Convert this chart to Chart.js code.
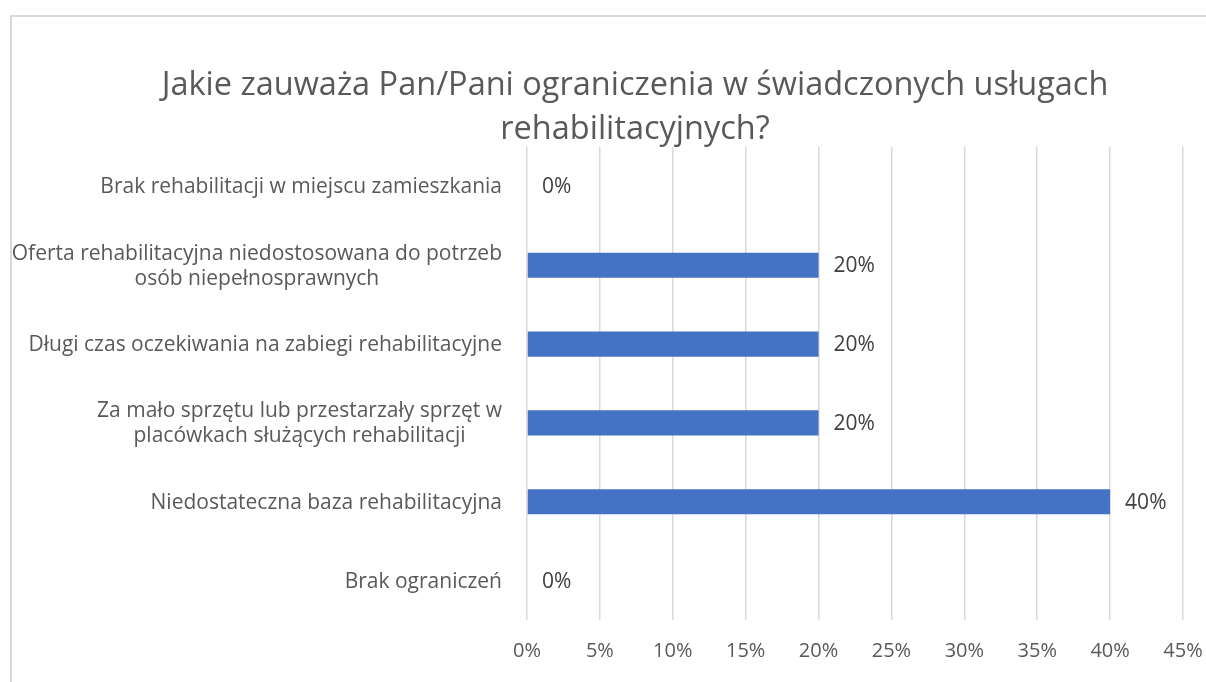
<!DOCTYPE html>
<html>
<head>
<meta charset="utf-8">
<script src="https://cdn.jsdelivr.net/npm/chart.js@4"></script>
<style>
  html, body { margin: 0; padding: 0; background: #fff; }
  #frame { position: absolute; left: 10px; top: 15px; right: -5px; bottom: -5px;
           border-top: 2px solid #d9d9d9; border-left: 2px solid #d9d9d9; }
  #wrap { position: absolute; left: 0; top: 0; width: 1206px; height: 682px; }
</style>
</head>
<body>
<div id="frame"></div>
<div id="wrap"><canvas id="chart" width="1206" height="682"></canvas></div>
<script>
const FONT = '"Open Sans", "Noto Sans", sans-serif';

const titleLines = ['Jakie zauważa Pan/Pani ograniczenia w świadczonych usługach', 'rehabilitacyjnych?'];

const categories = [
  'Brak rehabilitacji w miejscu zamieszkania',
  ['Oferta rehabilitacyjna niedostosowana do potrzeb', 'osób niepełnosprawnych'],
  'Długi czas oczekiwania na zabiegi rehabilitacyjne',
  ['Za mało sprzętu lub przestarzały sprzęt w', 'placówkach służących rehabilitacji'],
  'Niedostateczna baza rehabilitacyjna',
  'Brak ograniczeń'
];
const shares = [0, 0.20, 0.20, 0.20, 0.40, 0];

const axisMin = 0;
const axisMax = 0.45;
const axisStep = 0.05;

const pct = v => Math.round(v * 100) + '%';

// title, category labels and value labels drawn by hand
const textPlugin = {
  id: 'texts',
  afterDraw(chart) {
    const ctx = chart.ctx;
    const area = chart.chartArea;
    const yScale = chart.scales.y;
    ctx.save();

    ctx.fillStyle = '#595959';
    ctx.font = '32.5px ' + FONT;
    ctx.textAlign = 'center';
    ctx.textBaseline = 'middle';
    titleLines.forEach((t, i) => ctx.fillText(t, 635, 86 + i * 44));

    ctx.font = '21px ' + FONT;
    const right = area.left - 25;
    categories.forEach((lab, i) => {
      const lines = Array.isArray(lab) ? lab : [lab];
      const w = Math.max(...lines.map(l => ctx.measureText(l).width));
      const cy = yScale.getPixelForTick(i) + 1;
      const lh = 25;
      lines.forEach((l, j) => {
        ctx.fillText(l, right - w / 2, cy + (j - (lines.length - 1) / 2) * lh);
      });
    });

    ctx.fillStyle = '#404040';
    ctx.textAlign = 'left';
    chart.getDatasetMeta(0).data.forEach((bar, i) => {
      ctx.fillText(pct(shares[i]), bar.x + 15, bar.y + 1);
    });
    ctx.restore();
  }
};

new Chart(document.getElementById('chart'), {
  type: 'bar',
  data: {
    labels: categories,
    datasets: [{
      data: shares,
      backgroundColor: '#4472C4',
      categoryPercentage: 1,
      barPercentage: 0.32
    }]
  },
  options: {
    indexAxis: 'y',
    responsive: false,
    animation: false,
    layout: { padding: { top: 147, right: 23, bottom: 0, left: 0 } },
    plugins: { legend: { display: false }, tooltip: { enabled: false } },
    scales: {
      x: {
        min: axisMin,
        max: axisMax,
        ticks: {
          stepSize: axisStep,
          callback: v => pct(v),
          color: '#595959',
          font: { family: FONT, size: 20 },
          padding: 19
        },
        grid: { color: '#d9d9d9', lineWidth: 1.5, drawTicks: false },
        border: { display: false },
        afterFit(scale) { scale.paddingRight = 0; }
      },
      y: {
        ticks: { display: false },
        grid: { display: false },
        border: { display: false },
        afterFit(scale) { scale.width = 527; }
      }
    }
  },
  plugins: [textPlugin]
});
</script>
</body>
</html>
